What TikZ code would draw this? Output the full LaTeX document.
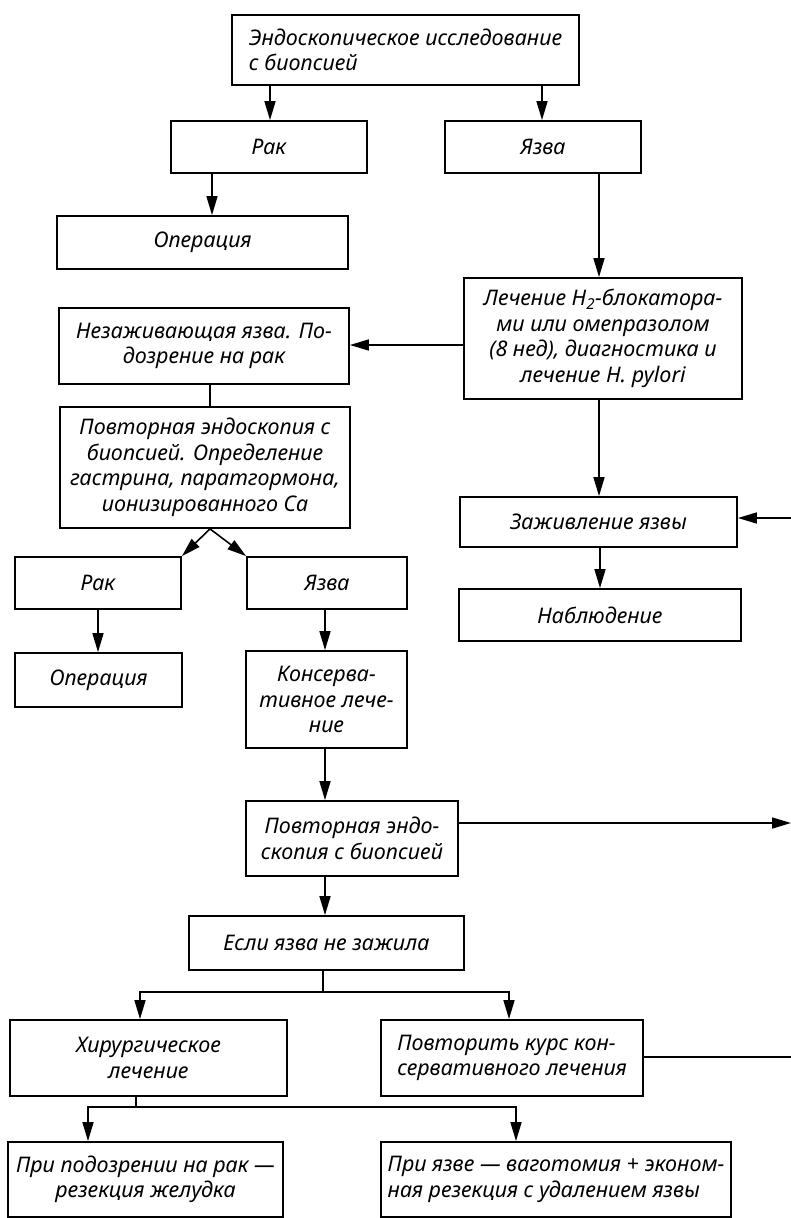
\documentclass[tikz,border=0pt]{standalone}
\usepackage{fontspec}
\setmainfont{Noto Sans}
\usetikzlibrary{arrows.meta}
\begin{document}
\begin{tikzpicture}[x=1pt,y=-1pt,
  box/.style={draw, line width=1.8pt, inner sep=0pt, align=center,
    font=\fontsize{21.5}{25.5}\selectfont\itshape},
  arr/.style={line width=1.6pt, -{Triangle[length=19pt,width=11pt]}},
  ln/.style={line width=1.6pt}]
\useasboundingbox (0,0) rectangle (791,1218);
% boxes
\node[box, align=left, minimum width=347pt, minimum height=70pt] (top) at (405.5,50)
  {Эндоскопическое исследование\\с биопсией};
\node[box, minimum width=196pt, minimum height=52pt] (rak1) at (269,147) {Рак};
\node[box, minimum width=196pt, minimum height=52pt] (yazva1) at (543,147) {Язва};
\node[box, minimum width=291pt, minimum height=53pt] (oper1) at (202.5,242.5) {Операция};
\node[box, minimum width=278pt, minimum height=121pt] (lech) at (603,338.5)
  {Лечение H\textsubscript{2}-блокатора-\\ми или омепразолом\\(8 нед), диагностика и\\лечение H. pylori};
\node[box, minimum width=290pt, minimum height=76pt] (nezazh) at (204,346)
  {Незаживающая язва. По-\\дозрение на рак};
\node[box, minimum width=290pt, minimum height=121pt] (povt) at (205,467.5)
  {Повторная эндоскопия с\\биопсией. Определение\\гастрина, паратгормона,\\ионизированного Са};
\node[box, minimum width=277pt, minimum height=50pt] (zazh) at (598.5,522) {Заживление язвы};
\node[box, minimum width=166pt, minimum height=52pt] (rak2) at (98,583) {Рак};
\node[box, minimum width=160pt, minimum height=52pt] (yazva2) at (327,583) {Язва};
\node[box, minimum width=282pt, minimum height=52pt] (nabl) at (600,615) {Наблюдение};
\node[box, minimum width=167pt, minimum height=54pt] (oper2) at (98.5,680) {Операция};
\node[box, minimum width=161pt, minimum height=97pt] (kons) at (326.5,699.5)
  {Консерва-\\тивное лече-\\ние};
\node[box, minimum width=212pt, minimum height=75pt] (povtendo) at (352,838.5)
  {Повторная эндо-\\скопия с биопсией};
\node[box, minimum width=275pt, minimum height=54pt] (esli) at (326.5,943) {Если язва не зажила};
\node[box, minimum width=277pt, minimum height=76pt] (hir) at (148.5,1058)
  {Хирургическое\\лечение};
\node[box, align=left, minimum width=262pt, minimum height=76pt] (povtorit) at (512,1058)
  {Повторить курс кон-\\сервативного лечения};
\node[box, minimum width=275pt, minimum height=75pt] (pripod) at (145.5,1179.5)
  {При подозрении на рак —\\резекция желудка};
\node[box, align=left, minimum width=350pt, minimum height=75pt] (priyazve) at (556,1179.5)
  {При язве — ваготомия + эконом-\\ная резекция с удалением язвы};
% free ends at the right edge
\coordinate (rin) at (791,518);
\coordinate (rout1) at (791,823);
\coordinate (rout2) at (791,1057);
% connectors
\draw[arr] (top.south -| 270,0) -- (rak1.north -| 270,0);
\draw[arr] (top.south -| 542,0) -- (yazva1.north -| 542,0);
\draw[arr] (rak1.south -| 212,0) -- (oper1.north -| 212,0);
\draw[arr] (yazva1.south -| 599,0) -- (lech.north -| 599,0);
\draw[arr] (lech.west |- 0,345) -- (nezazh.east |- 0,345);
\draw[ln] (nezazh.south -| 210,0) -- (povt.north -| 210,0);
\draw[arr] (povt.south -| 210,0) -- (rak2.north east);
\draw[arr] (povt.south -| 210,0) -- (yazva2.north west);
\draw[arr] (rak2.south) -- (oper2.north -| rak2.south);
\draw[arr] (yazva2.south -| 325,0) -- (kons.north -| 325,0);
\draw[arr] (lech.south -| 599,0) -- (zazh.north -| 599,0);
\draw[arr] (rin) -- (zazh.east |- rin);
\draw[arr] (zazh.south -| 600,0) -- (nabl.north -| 600,0);
\draw[arr] (kons.south -| 325,0) -- (povtendo.north -| 325,0);
\draw[arr] (povtendo.east |- rout1) -- (rout1);
\draw[arr] (povtendo.south -| 325,0) -- (esli.north -| 325,0);
\draw[ln] (esli.south -| 323,0) -- (323,992);
\draw[arr] (323,992) -| (hir.north -| 140,0);
\draw[arr] (323,992) -| (povtorit.north -| 509,0);
\draw[ln] (povtorit.east |- rout2) -- (rout2);
\draw[ln] (hir.south -| 136,0) -- (136,1107);
\draw[arr] (136,1107) -| (pripod.north -| 88,0);
\draw[arr] (136,1107) -| (priyazve.north -| 516,0);
\end{tikzpicture}
\end{document}
